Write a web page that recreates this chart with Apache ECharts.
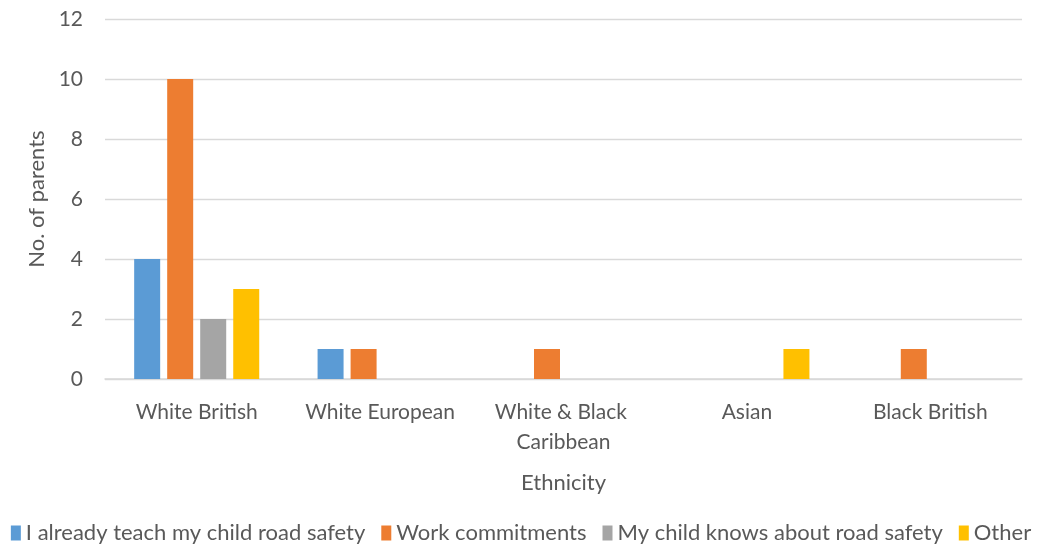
<!DOCTYPE html>
<html>
<head>
<meta charset="utf-8">
<script src="https://cdn.jsdelivr.net/npm/echarts@6/dist/echarts.min.js"></script>
<style>
  html, body { margin: 0; padding: 0; background: #fff; }
  #chart { width: 1042px; height: 549px; }
</style>
</head>
<body>
<div id="chart"></div>
<script>
// Reasons parents gave, grouped by ethnicity
const categories = ['White British', 'White European', 'White & Black Caribbean', 'Asian', 'Black British'];
const seriesNames = ['I already teach my child road safety', 'Work commitments', 'My child knows about road safety', 'Other'];
const teachSafety = [4, 1, 0, 0, 0];
const workCommitments = [10, 1, 1, 0, 1];
const childKnows = [2, 0, 0, 0, 0];
const other = [3, 0, 0, 1, 0];
const colors = ['#5B9BD5', '#ED7D31', '#A5A5A5', '#FFC000'];

const font = 'Lato, "Open Sans", sans-serif';
const textColor = '#595959';

const values = [teachSafety, workCommitments, childKnows, other];

const chart = echarts.init(document.getElementById('chart'));
chart.setOption({
  animation: false,
  color: colors,
  grid: { left: 105, right: 20, top: 19, bottom: 170, containLabel: false },
  legend: {
    bottom: 0,
    left: 'center',
    itemWidth: 10,
    itemHeight: 15,
    itemGap: 16,
    icon: 'rect',
    textStyle: { color: textColor, fontSize: 22, fontFamily: font, padding: [0, 0, 0, 0] },
    data: seriesNames
  },
  xAxis: {
    type: 'category',
    data: categories,
    name: 'Ethnicity',
    nameLocation: 'middle',
    nameGap: 93,
    nameTextStyle: { color: textColor, fontSize: 22, fontFamily: font },
    axisLine: { lineStyle: { color: '#D9D9D9', width: 1.5 } },
    axisTick: { show: false },
    axisLabel: {
      color: textColor, fontSize: 21, fontFamily: font, margin: 18,
      width: 165, overflow: 'break', lineHeight: 30, interval: 0
    }
  },
  yAxis: {
    type: 'value',
    min: 0,
    max: 12,
    interval: 2,
    name: 'No. of parents',
    nameLocation: 'middle',
    nameGap: 56,
    nameTextStyle: { color: textColor, fontSize: 22, fontFamily: font },
    axisLine: { show: false },
    axisTick: { show: false },
    axisLabel: { color: textColor, fontSize: 21, fontFamily: font, margin: 22 },
    splitLine: { lineStyle: { color: '#D9D9D9', width: 1.3 } }
  },
  series: seriesNames.map((name, i) => ({
    name: name,
    type: 'bar',
    data: values[i],
    barWidth: 26,
    barGap: '27%',
    itemStyle: { color: colors[i] }
  }))
});
</script>
</body>
</html>
